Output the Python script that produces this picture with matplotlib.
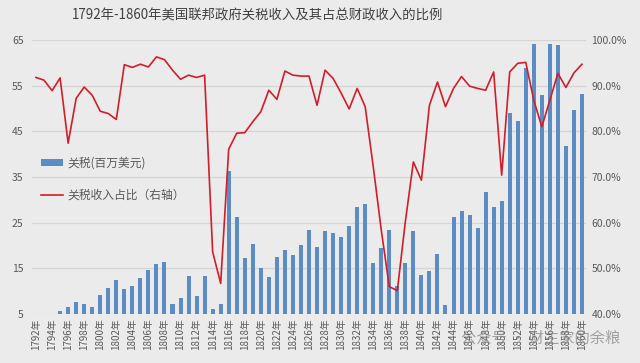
import matplotlib
matplotlib.use("Agg")
import matplotlib.pyplot as plt
import numpy as np
from matplotlib.patches import Patch
from matplotlib.lines import Line2D

plt.rcParams['font.family'] = ['Noto Sans CJK SC', 'DejaVu Sans']

years = list(range(1792, 1861))
tariff = [3.44, 4.26, 4.80, 5.59, 6.57, 7.55, 7.11, 6.61, 9.08, 10.75,
          12.44, 10.48, 11.10, 12.94, 14.67, 15.85, 16.36, 7.26, 8.58, 13.31,
          8.96, 13.22, 6.00, 7.28, 36.31, 26.28, 17.18, 20.28, 15.01, 13.00,
          17.59, 19.09, 17.88, 20.10, 23.34, 19.71, 23.21, 22.68, 21.92, 24.22,
          28.47, 29.03, 16.21, 19.39, 23.41, 11.17, 16.16, 23.14, 13.5, 14.49,
          18.19, 7.05, 26.18, 27.53, 26.71, 23.75, 31.76, 28.35, 29.7, 49.02,
          47.34, 58.93, 64.22, 53.03, 64.02, 63.88, 41.79, 49.57, 53.19]
share = [91.8, 91.2, 88.9, 91.7, 77.4, 87.2, 89.7, 87.9, 84.4, 83.9,
         82.6, 94.6, 94.0, 94.7, 94.1, 96.3, 95.7, 93.4, 91.4, 92.3,
         91.8, 92.3, 53.6, 46.7, 76.1, 79.6, 79.7, 82.1, 84.3, 89.0,
         87.0, 93.2, 92.3, 92.1, 92.1, 85.7, 93.4, 91.6, 88.4, 84.9,
         89.4, 85.4, 72.3, 58.4, 46.0, 45.1, 60.2, 73.3, 69.3, 85.7,
         90.8, 85.4, 89.4, 92.0, 89.9, 89.4, 89.0, 93.0, 70.4, 93.0,
         94.9, 95.1, 86.8, 81.0, 86.8, 92.7, 89.6, 92.8, 94.7]
labels = [f"{y}年" for y in years]
left_ticks = [5, 15, 25, 35, 45, 55, 65]
right_ticks = [40, 50, 60, 70, 80, 90, 100]

bg = '#EBEBEB'
bar_c = '#5B8DC4'
line_c = '#D01E2A'
txt_c = '#595959'

fig = plt.figure(figsize=(6.4, 3.63), dpi=100, facecolor=bg)
ax = fig.add_axes([0.05, 0.135, 0.8656, 0.7548], facecolor=bg)
x = np.arange(len(years))
ax.bar(x, tariff, width=0.5, color=bar_c, zorder=2)
ax.set_ylim(5, 65)
ax.set_xlim(-0.5, len(years) - 0.5)
ax.set_yticks(left_ticks)
ax.grid(axis='y', color='#D4D4D4', linewidth=0.9, zorder=0)
ax.set_xticks(x[::2])
ax.set_xticklabels(labels[::2], rotation=90, fontsize=7, color=txt_c)
ax.tick_params(axis='both', length=0, labelsize=7.5, colors=txt_c)
ax.tick_params(axis='x', pad=3, labelsize=7)
ax.tick_params(axis='y', pad=6)
for s in ax.spines.values():
    s.set_visible(False)

ax2 = ax.twinx()
ax2.plot(x, share, color=line_c, linewidth=1.2, zorder=3)
ax2.set_ylim(40, 100)
ax2.set_yticks(right_ticks)
ax2.set_yticklabels([f"{v:.1f}%" for v in right_ticks])
ax2.tick_params(axis='y', length=0, labelsize=7.5, colors=txt_c, pad=4)
for s in ax2.spines.values():
    s.set_visible(False)

handles = [Patch(facecolor=bar_c, edgecolor='none'),
           Line2D([0], [0], color=line_c, linewidth=1.2)]
leg = ax2.legend(handles, ['关税(百万美元)', '关税收入占比（右轴）'],
                 loc='upper left', bbox_to_anchor=(0.016, 0.574),
                 frameon=False, fontsize=8.5, handlelength=1.9,
                 handleheight=0.45, handletextpad=0.35, labelspacing=1.6,
                 borderpad=0, borderaxespad=0)
for t in leg.get_texts():
    t.set_color(txt_c)

fig.text(0.402, 0.957, '1792年-1860年美国联邦政府关税收入及其占总财政收入的比例',
         ha='center', va='center', fontsize=9.6, color='#404040')
fig.text(0.845, 0.068, '公众号 · 财主家的余粮', ha='center', va='center',
         fontsize=11, color='#888888', alpha=0.75)

fig.savefig('out.png', dpi=100, facecolor=bg)
